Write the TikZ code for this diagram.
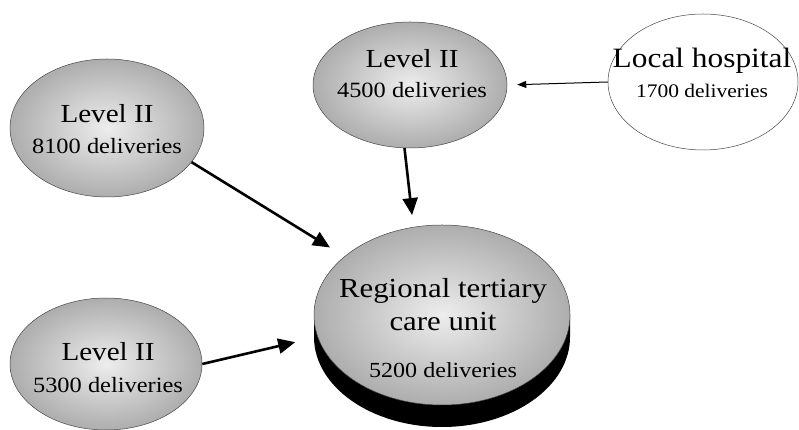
\documentclass[tikz,border=0pt]{standalone}
\usepackage{fontspec}
\setmainfont{Liberation Serif}
\usepackage{tikz}
\usetikzlibrary{calc,arrows.meta,shapes.geometric,positioning}
\usepackage{xcolor}
\definecolor{unitedge}{RGB}{70,70,70}
\newcommand\wide[1]{\scalebox{1.12}[1]{#1}}

\begin{document}
\begin{tikzpicture}[x=1pt,y=1pt,
    level/.style={ellipse,draw=unitedge,line width=0.5pt,inner sep=0pt,
      inner color=gray!14,outer color=gray!64},
    plain/.style={ellipse,draw=unitedge,line width=0.5pt,inner sep=0pt,fill=white},
    txt/.style={align=center,inner sep=0pt},
    feed/.style={-{Triangle[length=17pt,width=15pt]},line width=2.6pt},
    refer/.style={-{Triangle[length=9pt,width=7pt]},line width=1pt}]
  \useasboundingbox (0,0) rectangle (799,430);

  % units
  \node[level,minimum width=194pt,minimum height=138pt] (lvlA) at (107,302) {};
  \node[level,minimum width=194pt,minimum height=126pt] (lvlB) at (410,345) {};
  \node[level,minimum width=192pt,minimum height=132pt] (lvlC) at (106,66) {};
  \node[plain,minimum width=190pt,minimum height=136pt] (local) at (703,348) {};

  % regional unit with its dark base
  \coordinate (hubc) at (442,115);
  \fill[black] ($(hubc)+(-128,0)$) -- ++(0,-22)
    arc[start angle=180,end angle=360,x radius=128,y radius=90] -- ++(0,22) -- cycle;
  \node[level,minimum width=256pt,minimum height=180pt] (hub) at (hubc) {};

  \node[txt,font=\fontsize{26}{31}\selectfont] (lvlAtxt) at (107,301)
    {\wide{Level II}\\\fontsize{21.8}{31}\selectfont\wide{8100 deliveries}};
  \node[txt,font=\fontsize{26}{30}\selectfont] (lvlBtxt) at (412,356.5)
    {\wide{Level II}\\\fontsize{21.8}{30}\selectfont\wide{4500 deliveries}};
  \node[txt,font=\fontsize{26}{32}\selectfont] (lvlCtxt) at (108,62.5)
    {\wide{Level II}\\\fontsize{21.8}{32}\selectfont\wide{5300 deliveries}};
  \node[txt,font=\fontsize{28}{30}\selectfont] (localtxt) at (702,357.5)
    {\wide{Local hospital}\\\fontsize{19.2}{30}\selectfont\wide{1700 deliveries}};
  \node[txt,font=\fontsize{27.5}{33}\selectfont] (hubtxt) at (443,102)
    {\wide{Regional tertiary}\\\wide{care unit}\\[14pt]\fontsize{21.5}{33}\selectfont\wide{5200 deliveries}};

  % referrals
  \draw[feed,shorten >=17pt] (lvlA.-22) -- (hub.149);
  \draw[feed,shorten >=12pt] (lvlB.265) -- (hub.108);
  \draw[feed,shorten >=23pt] (lvlC.east) -- (hub.190);
  \draw[refer,shorten >=10pt] (local.west) -- (lvlB.east);
\end{tikzpicture}
\end{document}
